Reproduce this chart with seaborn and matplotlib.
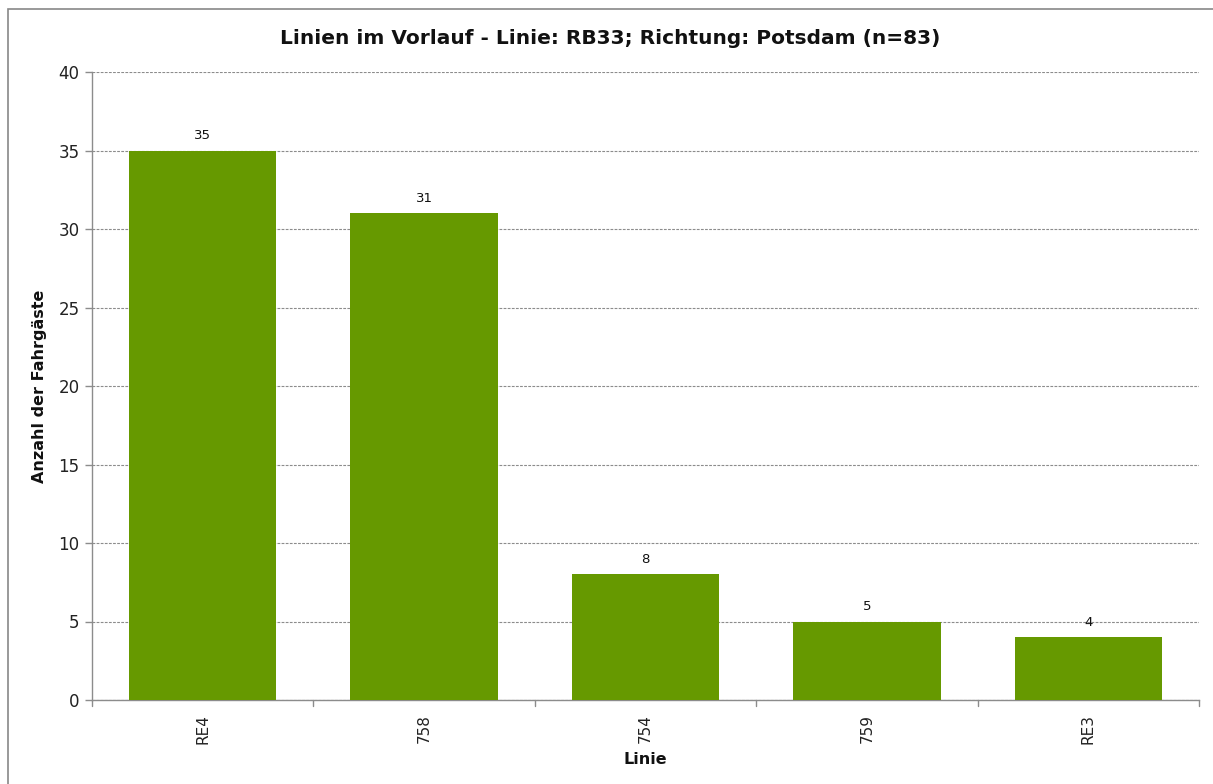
import matplotlib
matplotlib.use("Agg")
import matplotlib.pyplot as plt
import seaborn as sns
import pandas as pd
from matplotlib.patches import Rectangle

categories = ["RE4", "758", "754", "759", "RE3"]
values = [35, 31, 8, 5, 4]
yticks = [0, 5, 10, 15, 20, 25, 30, 35, 40]
title = "Linien im Vorlauf - Linie: RB33; Richtung: Potsdam (n=83)"
xlabel = "Linie"
ylabel = "Anzahl der Fahrgäste"

sns.set_theme(style="white")
plt.rcParams["font.family"] = ["DejaVu Sans"]

df = pd.DataFrame({"Linie": categories, "Anzahl": values})

W, H = 1213, 784
fig = plt.figure(figsize=(W / 100, H / 100), dpi=100)
ax = fig.add_axes([92 / W, 1 - 700 / H, (1199 - 92) / W, (700 - 72) / H])

sns.barplot(data=df, x="Linie", y="Anzahl", color="#669900", width=0.665,
            saturation=1, ax=ax, zorder=3)
for p in ax.patches:
    p.set_edgecolor("none")

ax.set_xlim(-0.5, len(categories) - 0.5)
ax.set_ylim(0, 40)
ax.set_yticks(yticks)
ax.set_yticklabels([str(t) for t in yticks], fontsize=12, color="#222222")
ax.yaxis.grid(True, linestyle=(0, (2.5, 1.2)), color="#8c8c8c", linewidth=0.8, zorder=0)
ax.xaxis.grid(False)

ax.set_xticks(range(len(categories)))
ax.set_xticklabels(categories, rotation=90, fontsize=11, color="#222222")
ax.tick_params(axis="x", length=0, pad=10)
ax.tick_params(axis="y", length=5, width=1, color="#8c8c8c", left=True, pad=4)
# category boundary ticks
for b in [i - 0.5 for i in range(len(categories) + 1)]:
    ax.plot([b, b], [0, -6 / 628], transform=ax.get_xaxis_transform(), color="#8c8c8c",
            lw=1, clip_on=False)

for s in ["top", "right"]:
    ax.spines[s].set_visible(False)
for s in ["left", "bottom"]:
    ax.spines[s].set_color("#8c8c8c")
    ax.spines[s].set_linewidth(1)

for i, v in enumerate(values):
    ax.annotate(str(v), (i, v), xytext=(0, 6), textcoords="offset points",
                ha="center", va="bottom", fontsize=9.5, color="#111111")

ax.set_xlabel(xlabel, fontsize=11.5, fontweight="bold", labelpad=6, color="#111111")
ax.set_ylabel(ylabel, fontsize=11.5, fontweight="bold", labelpad=8, color="#111111")
fig.text(610 / W, 1 - 38 / H, title, ha="center", va="center", fontsize=14.5,
         fontweight="bold", color="#111111")

fig.patches.append(Rectangle((8 / W, -0.1), 1.2, (H - 9) / H + 0.1,
                             transform=fig.transFigure, fill=False,
                             edgecolor="#888888", linewidth=1.2))

fig.savefig("out.png", dpi=100, facecolor="white")
